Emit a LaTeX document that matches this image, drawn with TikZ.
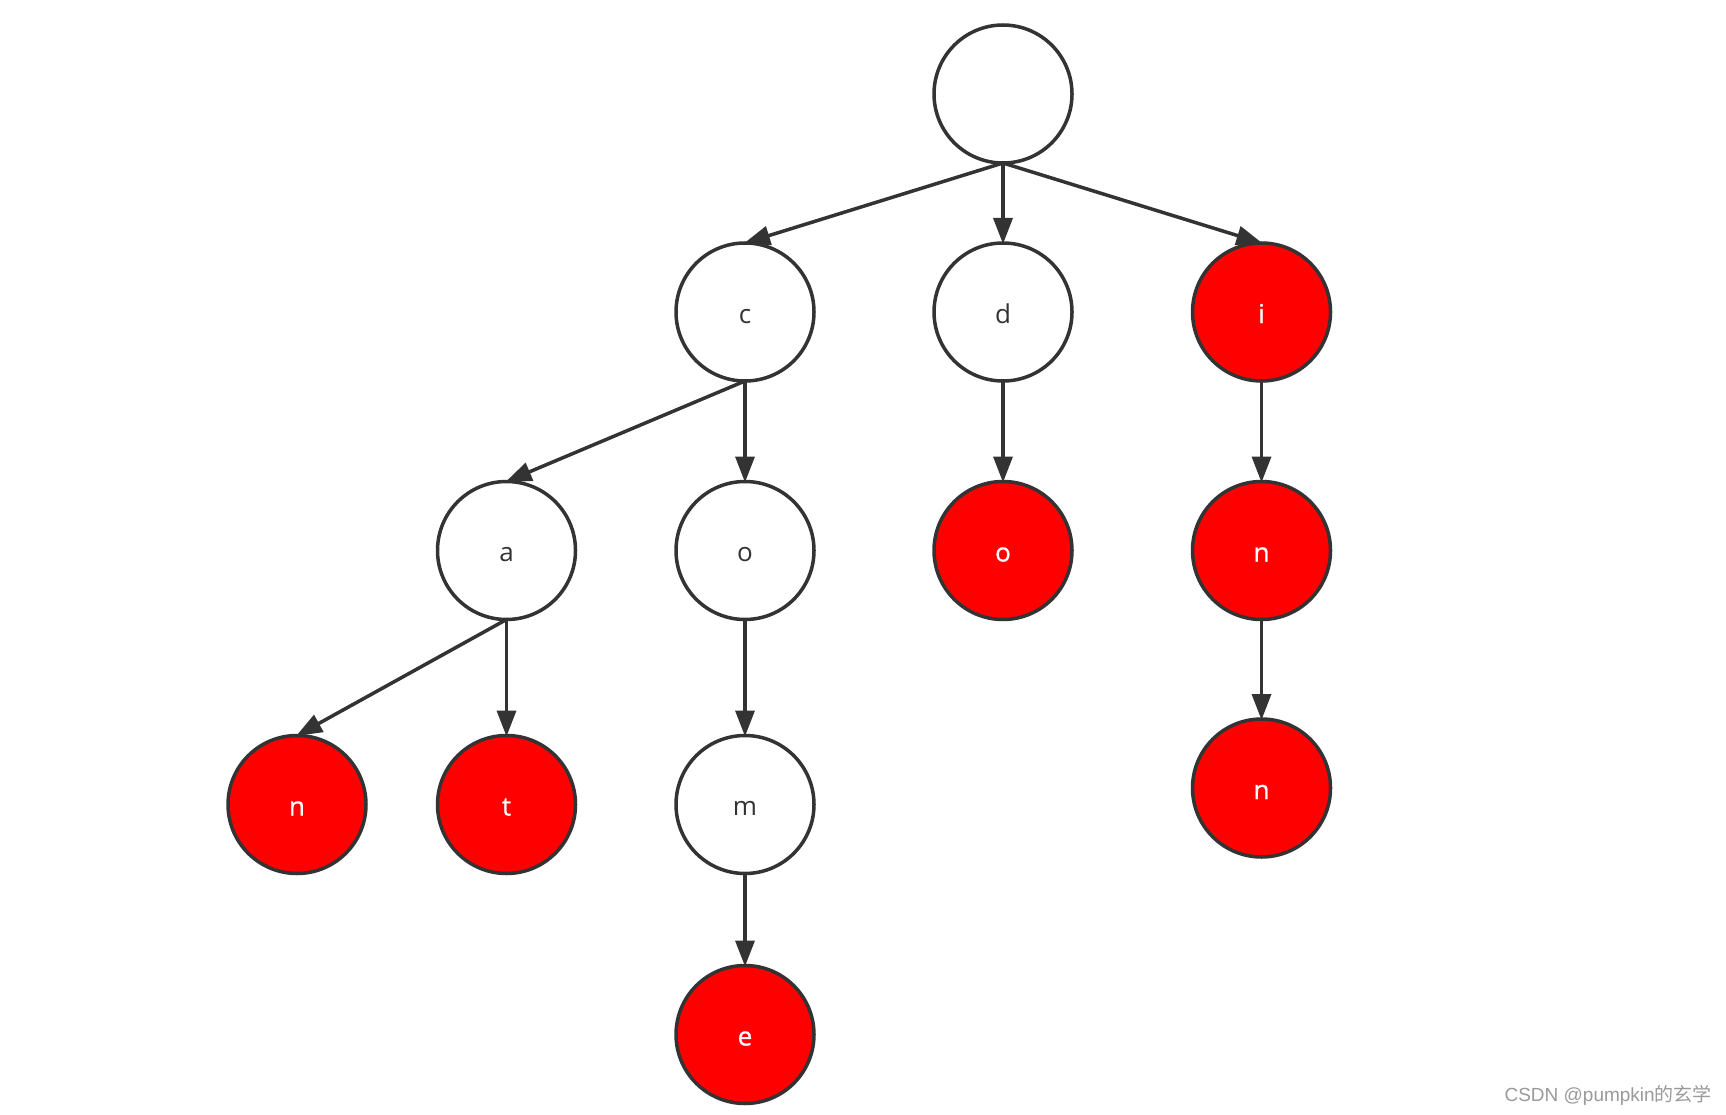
\documentclass[tikz,border=0pt]{standalone}
\usepackage{fontspec}
\setmainfont{Open Sans}
\newfontface\semib[FakeBold=0.8]{Open Sans}
\newfontfamily\cjkfont{Noto Sans CJK SC}
\newfontfamily\wmlatin{Liberation Sans}
\usetikzlibrary{arrows.meta}
\definecolor{edgec}{HTML}{333333}
\definecolor{redc}{HTML}{FF0000}
\definecolor{wmc}{HTML}{9A9A9A}
\tikzset{
  trienode/.style={circle, draw=edgec, line width=3.5pt, minimum size=138pt, inner sep=0pt, outer sep=0pt, text height=26pt, text depth=4pt, font=\fontsize{26}{29}\selectfont},
  plainnode/.style={trienode, fill=white, text=edgec},
  rednode/.style={trienode, fill=redc, text=white, font=\fontsize{26}{29}\selectfont\semib},
  link/.style={draw=edgec, line width=3.5pt, -{Triangle[length=26pt,width=19pt]}, shorten >=-1pt}
}
\begin{document}
\begin{tikzpicture}[x=1pt,y=-1pt]
\useasboundingbox (0,0) rectangle (1726,1115);
\fill[white] (0,0) rectangle (1726,1115);
\node[plainnode] (root) at (1003,94) {};
\node[plainnode] (c) at (745,312) {c};
\node[plainnode] (d) at (1003,312) {d};
\node[rednode] (i) at (1261.5,312) {i};
\node[plainnode] (a) at (506.5,550.5) {a};
\node[plainnode] (o) at (745,550.5) {o};
\node[rednode] (o2) at (1003,550.5) {o};
\node[rednode] (n1) at (1261.5,550.5) {n};
\node[rednode] (n2) at (297,804.5) {n};
\node[rednode] (t) at (506.5,804.5) {t};
\node[plainnode] (m) at (745,804.5) {m};
\node[rednode] (e) at (745,1034.5) {e};
\node[rednode] (n3) at (1261.5,788) {n};
\draw[link] (root.south) -- (c.north);
\draw[link] (root.south) -- (d.north);
\draw[link] (root.south) -- (i.north);
\draw[link] (c.south) -- (a.north);
\draw[link] (c.south) -- (o.north);
\draw[link] (d.south) -- (o2.north);
\draw[link] (i.south) -- (n1.north);
\draw[link] (n1.south) -- (n3.north);
\draw[link] (a.south) -- (n2.north);
\draw[link] (a.south) -- (t.north);
\draw[link] (o.south) -- (m.north);
\draw[link] (m.south) -- (e.north);
\node[anchor=east, text=wmc, font=\fontsize{19}{22}\selectfont, inner sep=0pt] (wm) at (1712,1095) {\wmlatin CSDN @pumpkin\cjkfont 的玄学};
\end{tikzpicture}
\end{document}
